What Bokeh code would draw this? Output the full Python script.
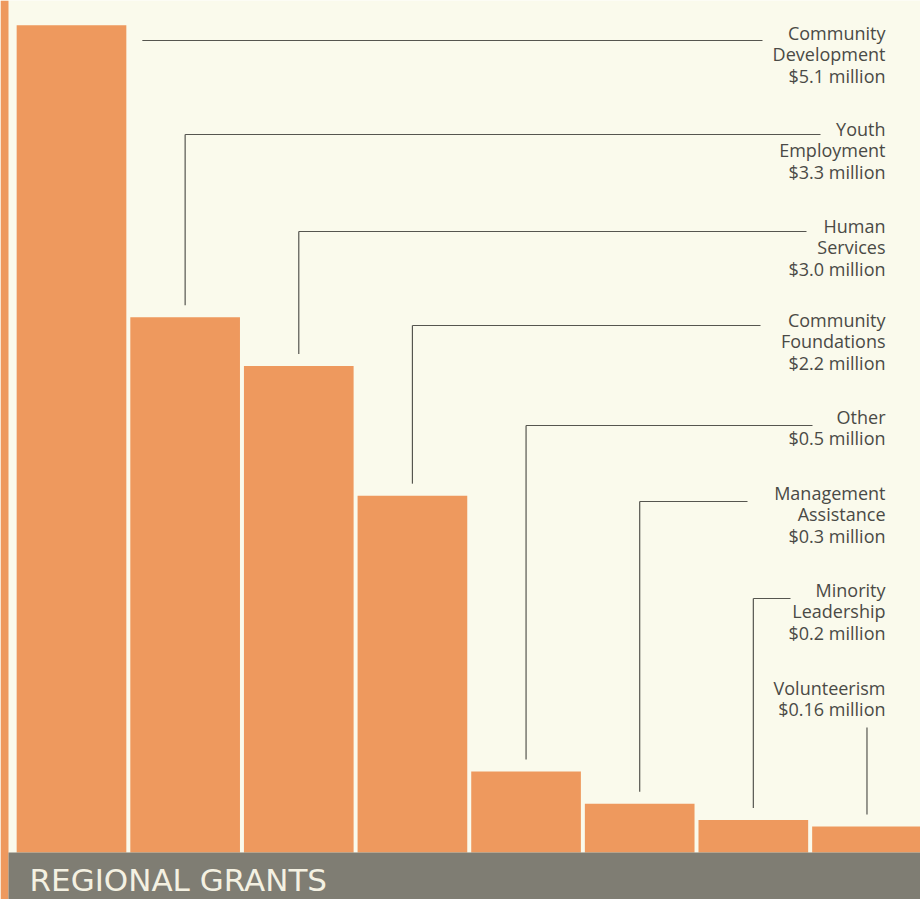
from bokeh.plotting import figure
from bokeh.models import ColumnDataSource, Range1d, BoxAnnotation, Label
from bokeh.embed import file_html
from bokeh.resources import INLINE
from bokeh.core.properties import value

# ---- data ----
categories = ["Community\nDevelopment", "Youth\nEmployment", "Human\nServices",
              "Community\nFoundations", "Other", "Management\nAssistance",
              "Minority\nLeadership", "Volunteerism"]
grants = [5.1, 3.3, 3.0, 2.2, 0.5, 0.3, 0.2, 0.16]   # $ million
amount_labels = ["$5.1 million", "$3.3 million", "$3.0 million", "$2.2 million",
                 "$0.5 million", "$0.3 million", "$0.2 million", "$0.16 million"]
title_text = "REGIONAL GRANTS"

# ---- layout (page pixels) ----
W, H = 920, 899
BAR_PX = 113.64          # pixels per category slot
PX_PER_M = 162.2         # pixels per $1 million
BASE_PX = 852            # page y of the baseline
FIRST_CENTER_PX = 71     # page x of first bar centre
TEXT_SHIFT = 8           # renderer places alphabetic baseline lower
label_first_baseline = [40, 136, 233, 327, 424, 500, 597, 695]
leader_y_px = [40, 134, 231, 325, 425, 501, 598, None]
leader_end_px = [762, 820, 806, 760, 812, 747, 790, None]
last_leader_top_px = 727
label_right_px = 885
line_step_px = 21.5
gap_px = 12

x0 = -FIRST_CENTER_PX / BAR_PX
def X(px):
    return x0 + px / BAR_PX
def Y(py):
    return (BASE_PX - py) / PX_PER_M

BG = "#FAFAEC"
BAR = "#EE995E"
BAND = "#7F7D73"
INK = "#55554F"
TXT = "#4A4A46"

p = figure(width=W, height=H, output_backend="svg", toolbar_location=None,
           x_range=Range1d(X(0), X(W)), y_range=Range1d(Y(H), Y(0)),
           min_border=0, background_fill_color=BG, border_fill_color=BG)
p.axis.visible = False
p.grid.visible = False
p.outline_line_color = None

xs = list(range(len(grants)))
p.vbar(x=xs, top=grants, bottom=0, width=0.965, fill_color=BAR, line_color=None)

# left edge strip (neighbouring page)
p.add_layout(BoxAnnotation(right=X(8), fill_color=BAR, fill_alpha=1.0, line_color=None))

# leader lines
gap = gap_px / PX_PER_M
sx0, sy0, sx1, sy1 = [], [], [], []
for i, v in enumerate(grants):
    ly = leader_y_px[i]
    if i == 0:
        half = 0.965 / 2
        sx0.append(i + half + 16 / BAR_PX); sy0.append(Y(ly))
        sx1.append(X(leader_end_px[i])); sy1.append(Y(ly))
        continue
    if ly is None:
        sx0.append(i); sy0.append(Y(last_leader_top_px))
        sx1.append(i); sy1.append(v + gap)
        continue
    sx0.append(i); sy0.append(Y(ly)); sx1.append(i); sy1.append(v + gap)
    sx0.append(i); sy0.append(Y(ly)); sx1.append(X(leader_end_px[i])); sy1.append(Y(ly))
p.segment(x0=sx0, y0=sy0, x1=sx1, y1=sy1, line_color=INK, line_width=1.2)

# labels
tx, ty, tt = [], [], []
for i, name in enumerate(categories):
    lines = name.split("\n") + [amount_labels[i]]
    for k, s in enumerate(lines):
        tx.append(X(label_right_px))
        ty.append(Y(label_first_baseline[i] + k * line_step_px - TEXT_SHIFT))
        tt.append(s)
src = ColumnDataSource(dict(x=tx, y=ty, t=tt))
p.text(x="x", y="y", text="t", source=src, text_align="right",
       text_baseline="alphabetic", text_font=value("Open Sans"),
       text_font_size="18px", text_color=TXT)

# bottom band and title
p.add_layout(BoxAnnotation(top=0, left=X(8), fill_color=BAND, fill_alpha=1.0, line_color=None))
p.add_layout(Label(x=X(29), y=Y(887 - TEXT_SHIFT), text=title_text, text_align="left",
                   text_baseline="alphabetic", text_font="DejaVu Sans",
                   text_font_size="31px", text_color="#F4F1E2"))

open("out.html", "w").write(file_html(p, INLINE))
